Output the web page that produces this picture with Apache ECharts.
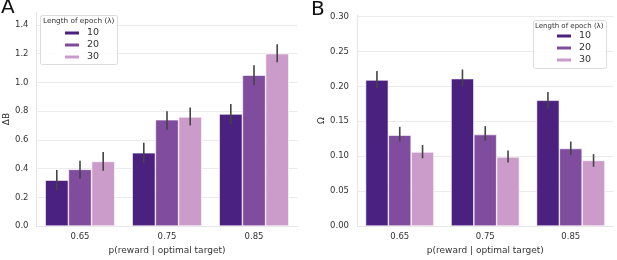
<!DOCTYPE html>
<html>
<head>
<meta charset="utf-8">
<script src="https://cdn.jsdelivr.net/npm/echarts@6/dist/echarts.min.js"></script>
<style>
  html, body { margin: 0; padding: 0; background: #fff; }
  #chart { width: 617px; height: 260px; }
</style>
</head>
<body>
<div id="chart"></div>
<script>
// categories: p(reward | optimal target)
var categories = ['0.65', '0.75', '0.85'];
var epochs = ['10', '20', '30'];

// panel A: delta B
var deltaB10 = [0.32, 0.51, 0.78];
var deltaB20 = [0.395, 0.74, 1.05];
var deltaB30 = [0.45, 0.76, 1.20];
var deltaB10Err = [[0.25, 0.39], [0.44, 0.58], [0.71, 0.85]];
var deltaB20Err = [[0.33, 0.455], [0.67, 0.80], [0.98, 1.12]];
var deltaB30Err = [[0.385, 0.515], [0.70, 0.825], [1.14, 1.265]];

// panel B: omega
var omega10 = [0.209, 0.211, 0.180];
var omega20 = [0.130, 0.131, 0.111];
var omega30 = [0.106, 0.099, 0.094];
var omega10Err = [[0.197, 0.222], [0.200, 0.224], [0.168, 0.192]];
var omega20Err = [[0.121, 0.142], [0.122, 0.143], [0.102, 0.121]];
var omega30Err = [[0.097, 0.116], [0.091, 0.108], [0.085, 0.103]];

var colors = ['#4a217f', '#7f4c9e', '#cb9bca'];
var font = 'DejaVu Sans';

var chart = echarts.init(document.getElementById('chart'));

// 误差线
function errItem(pos) {
	return function(params, api) {
		var x = api.value(0);
		var lo = api.coord([x, api.value(1)]);
		var hi = api.coord([x, api.value(2)]);
		var band = api.size([1, 0])[0];
		var dx = (pos - 1) * band * 0.8 / 3;
		return {
			type: 'line',
			shape: { x1: lo[0] + dx, y1: lo[1], x2: hi[0] + dx, y2: hi[1] },
			style: { stroke: '#444', lineWidth: 1.6 }
		};
	};
}

function barSeries(name, data, idx, axis) {
	return {
		name: name,
		type: 'bar',
		xAxisIndex: axis,
		yAxisIndex: axis,
		data: data,
		barGap: '0%',
		barCategoryGap: '20%',
		itemStyle: { color: colors[idx], borderColor: '#fff', borderWidth: 0.6 },
		emphasis: { disabled: true },
		z: 2
	};
}

function errSeries(err, idx, axis) {
	return {
		type: 'custom',
		xAxisIndex: axis,
		yAxisIndex: axis,
		renderItem: errItem(idx),
		encode: { x: 0, y: [1, 2] },
		data: err.map(function(e, i) { return [i, e[0], e[1]]; }),
		z: 5,
		silent: true
	};
}

function xAxisCfg(grid) {
	return {
		type: 'category',
		gridIndex: grid,
		data: categories,
		name: 'p(reward | optimal target)',
		nameLocation: 'middle',
		nameGap: 17,
		nameTextStyle: { fontFamily: font, fontSize: 9, color: '#333' },
		axisLine: { show: true, lineStyle: { color: '#e6e6e6', width: 1 } },
		axisTick: { show: false },
		axisLabel: { fontFamily: font, fontSize: 8.5, color: '#333', margin: 6 },
		splitLine: { show: false }
	};
}

function yAxisCfg(grid, max, interval, digits, name, gap) {
	return {
		type: 'value',
		gridIndex: grid,
		min: 0,
		max: max,
		interval: interval,
		name: name,
		nameLocation: 'middle',
		nameRotate: 90,
		nameGap: gap,
		nameTextStyle: { fontFamily: font, fontSize: 9, color: '#333' },
		axisLine: { show: true, lineStyle: { color: '#e6e6e6', width: 1 } },
		axisTick: { show: false },
		axisLabel: {
			fontFamily: font, fontSize: 8.5, color: '#333', margin: 8,
			showMaxLabel: false,
			formatter: function(v) { return v.toFixed(digits); }
		},
		splitLine: { show: true, showMaxLine: false, lineStyle: { color: '#ebebeb', width: 1 } }
	};
}

function legendCfg(left, top) {
	return {
		data: epochs,
		orient: 'vertical',
		left: left,
		top: top,
		icon: 'rect',
		itemWidth: 16,
		itemHeight: 5,
		itemGap: 2,
		padding: 0,
		selectedMode: false,
		z: 12,
		textStyle: { fontFamily: font, fontSize: 9.5, color: '#333', padding: [0, 0, 0, 2] }
	};
}

var option = {
	animation: false,
	backgroundColor: '#fff',
	grid: [
		{ left: 36.5, right: 319.5, top: 12, bottom: 27 },
		{ left: 357, right: 3.5, top: 15, bottom: 27 }
	],
	xAxis: [xAxisCfg(0), xAxisCfg(1)],
	yAxis: [
		yAxisCfg(0, 1.49, 0.2, 1, 'ΔB', 20),
		yAxisCfg(1, 0.302, 0.05, 2, 'Ω', 27)
	],
	legend: [legendCfg(63, 28), legendCfg(555, 31)],
	graphic: [
		{ type: 'text', left: 1, top: -2, style: { text: 'A', font: '20px ' + font, fill: '#111' } },
		{ type: 'text', left: 311, top: 0, style: { text: 'B', font: '20px ' + font, fill: '#111' } },
		{ type: 'rect', shape: { x: 40.5, y: 15.5, width: 77, height: 49, r: 2 },
			style: { fill: 'rgba(255,255,255,0.85)', stroke: '#dcdcdc', lineWidth: 1 }, z: 6 },
		{ type: 'text', x: 43, y: 18, style: { text: 'Length of epoch (λ)', font: '7.3px ' + font, fill: '#333' }, z: 11 },
		{ type: 'rect', shape: { x: 533.5, y: 20.5, width: 73, height: 48, r: 2 },
			style: { fill: 'rgba(255,255,255,0.85)', stroke: '#dcdcdc', lineWidth: 1 }, z: 6 },
		{ type: 'text', x: 535, y: 22.5, style: { text: 'Length of epoch (λ)', font: '7px ' + font, fill: '#333' }, z: 11 }
	],
	series: [
		barSeries('10', deltaB10, 0, 0),
		barSeries('20', deltaB20, 1, 0),
		barSeries('30', deltaB30, 2, 0),
		errSeries(deltaB10Err, 0, 0),
		errSeries(deltaB20Err, 1, 0),
		errSeries(deltaB30Err, 2, 0),
		barSeries('10', omega10, 0, 1),
		barSeries('20', omega20, 1, 1),
		barSeries('30', omega30, 2, 1),
		errSeries(omega10Err, 0, 1),
		errSeries(omega20Err, 1, 1),
		errSeries(omega30Err, 2, 1)
	]
};

chart.setOption(option);
</script>
</body>
</html>
